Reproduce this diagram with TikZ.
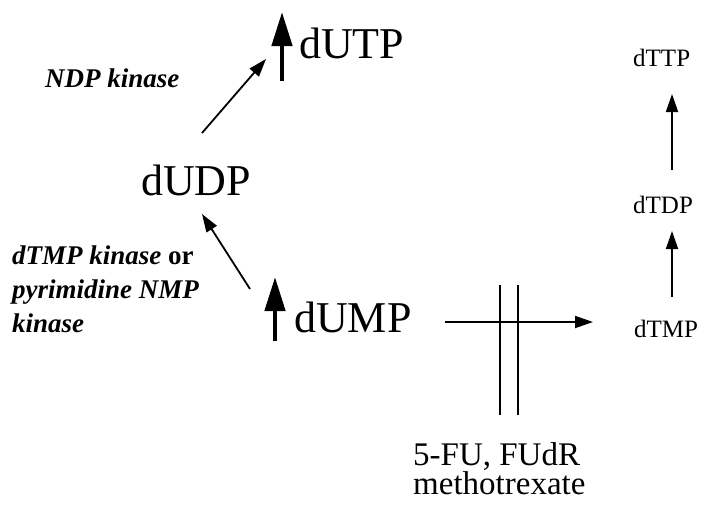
\documentclass[tikz,border=0pt]{standalone}
\usepackage{fontspec}
\setmainfont{Liberation Serif}
\usetikzlibrary{arrows.meta}
\begin{document}
\begin{tikzpicture}[x=1pt,y=-1pt,
  big/.style={inner sep=0pt,anchor=base west,font=\fontsize{44}{48}\selectfont},
  small/.style={inner sep=0pt,anchor=base west,font=\fontsize{25}{28}\selectfont},
  drug/.style={inner sep=0pt,anchor=north west,font=\fontsize{33}{29}\selectfont,align=left},
  enz/.style={inner sep=0pt,anchor=base west,font=\fontsize{27}{34}\selectfont\bfseries\itshape,align=left},
  thin/.style={line width=1.8pt,-{Triangle[length=18pt,width=12pt]}},
  boldup/.style={line width=4.5pt,-{Triangle[length=34pt,width=20pt]}},
  blk/.style={line width=1.8pt}]
\useasboundingbox (0,0) rectangle (714,506);
% metabolites
\node[big] (dUTP) at (299,58) {dUTP};
\node[big] (dUDP) at (141,195) {dUDP};
\node[big] (dUMP) at (294,332) {dUMP};
\node[small] (dTTP) at (633,66) {dTTP};
\node[small] (dTDP) at (633,213) {dTDP};
\node[small] (dTMP) at (634,337) {dTMP};
% labels
\node[enz] (ndp) at (45,87) {NDP kinase};
\node[enz,anchor=north west] (dtmpk) at (12,246) {dTMP kinase {\upshape or}\\pyrimidine NMP\\kinase};
\node[drug] (drug) at (413,442) {5-FU, FUdR\\methotrexate};
% arrow end points
\coordinate (a1s) at (202,133); \coordinate (a1e) at (266,59);
\coordinate (a2s) at (250,289); \coordinate (a2e) at (202,214);
\coordinate (b1s) at (282,81);  \coordinate (b1e) at (282,12);
\coordinate (b2s) at (275,341); \coordinate (b2e) at (275,277);
\coordinate (hs) at (445,322);  \coordinate (he) at (593,322);
\coordinate (v1s) at (672,170); \coordinate (v1e) at (672,94);
\coordinate (v2s) at (672,297); \coordinate (v2e) at (672,231);
\coordinate (l1t) at (500,285); \coordinate (l1b) at (500,415);
\coordinate (l2t) at (518,285); \coordinate (l2b) at (518,415);
% arrows
\draw[thin] (a1s) -- (a1e);
\draw[thin] (a2s) -- (a2e);
\draw[boldup] (b1s) -- (b1e);
\draw[boldup] (b2s) -- (b2e);
\draw[thin] (hs) -- (he);
\draw[thin] (v1s) -- (v1e);
\draw[thin] (v2s) -- (v2e);
\draw[blk] (l1t) -- (l1b);
\draw[blk] (l2t) -- (l2b);
\end{tikzpicture}
\end{document}
